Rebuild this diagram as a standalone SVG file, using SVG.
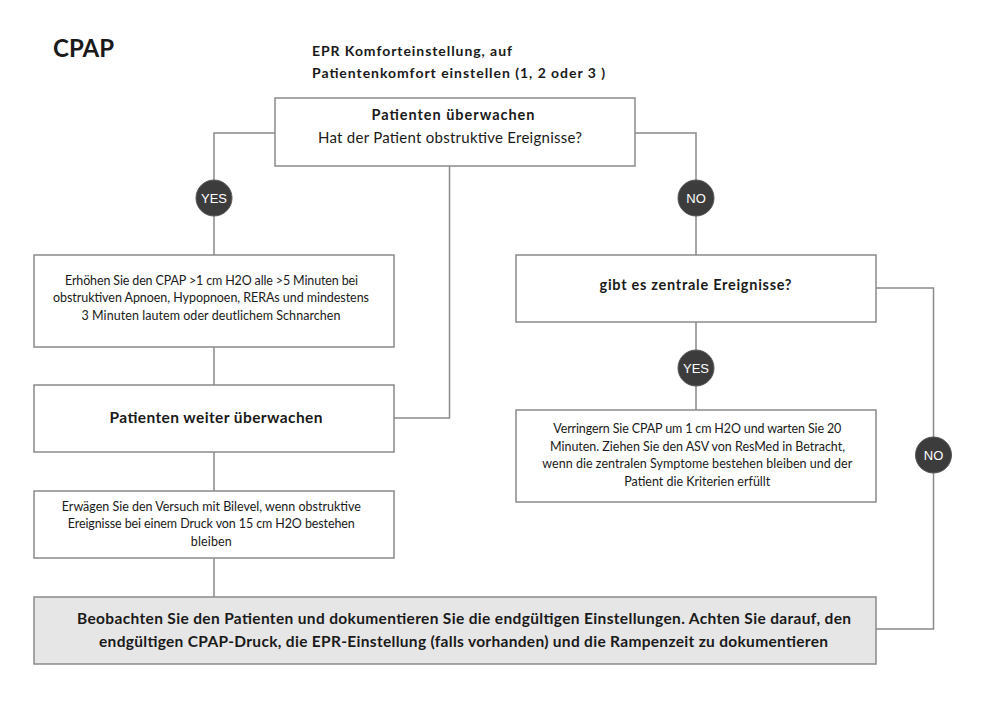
<svg xmlns="http://www.w3.org/2000/svg" width="1000" height="723" viewBox="0 0 1000 723">
<style>
.t{font-family:Lato,"Open Sans","Liberation Sans",sans-serif;fill:#1a1a1a}
.b{font-weight:bold}
.box{fill:#fff;stroke:#8a8a8a;stroke-width:1.5}
.gbox{fill:#e6e6e6;stroke:#8a8a8a;stroke-width:1.5}
.ln{fill:none;stroke:#8a8a8a;stroke-width:1.5}
.dot{fill:#3c3c3c;stroke:#5a5a5a;stroke-width:1}
.dl{font-family:"Liberation Sans",Arial,sans-serif;font-size:13px;fill:#fff;text-anchor:middle}
.m{text-anchor:middle}
.s{font-size:12.5px}
</style>
<rect width="1000" height="723" fill="#fff"/>
<g id="title">
<text class="t b" x="53" y="57" font-size="24">CPAP</text>
<text class="t b" x="312" y="56" font-size="14" textLength="200">EPR Komforteinstellung, auf</text>
<text class="t b" x="312" y="78" font-size="14" textLength="293">Patientenkomfort einstellen (1, 2 oder 3 )</text>
</g>
<g id="connectors">
<polyline class="ln" points="275,133 214,133 214,255"/>
<polyline class="ln" points="635,133 696,133 696,255"/>
<polyline class="ln" points="449.5,166 449.5,418 394,418"/>
<line class="ln" x1="214" y1="347" x2="214" y2="385"/>
<line class="ln" x1="214" y1="452" x2="214" y2="491"/>
<line class="ln" x1="214" y1="558" x2="214" y2="597"/>
<line class="ln" x1="696" y1="322" x2="696" y2="410"/>
<polyline class="ln" points="876,288 933.5,288 933.5,629 876,629"/>
</g>
<g id="n-monitor">
<rect class="box" x="275" y="98" width="360" height="68"/>
<text class="t b m" x="453" y="120" font-size="14.5" textLength="163">Patienten überwachen</text>
<text class="t m" x="450" y="143" font-size="15" textLength="264">Hat der Patient obstruktive Ereignisse?</text>
</g>
<g id="yes1">
<circle class="dot" cx="214" cy="198" r="18"/>
<text class="dl" x="214" y="203">YES</text>
</g>
<g id="no1">
<circle class="dot" cx="696" cy="198" r="18"/>
<text class="dl" x="696" y="203">NO</text>
</g>
<g id="n-increase">
<rect class="box" x="34" y="255" width="360" height="92"/>
<text class="t s m" x="211.5" y="284.5" textLength="293">Erhöhen Sie den CPAP &gt;1 cm H2O alle &gt;5 Minuten bei</text>
<text class="t s m" x="211" y="302" textLength="316">obstruktiven Apnoen, Hypopnoen, RERAs und mindestens</text>
<text class="t s m" x="211" y="319.5" textLength="259">3 Minuten lautem oder deutlichem Schnarchen</text>
</g>
<g id="n-continue">
<rect class="box" x="34" y="385" width="360" height="67"/>
<text class="t b m" x="216" y="423" font-size="15.5" textLength="213">Patienten weiter überwachen</text>
</g>
<g id="n-bilevel">
<rect class="box" x="34" y="491" width="360" height="67"/>
<text class="t s m" x="211.3" y="510.5" textLength="299">Erwägen Sie den Versuch mit Bilevel, wenn obstruktive</text>
<text class="t s m" x="211.3" y="528" textLength="287">Ereignisse bei einem Druck von 15 cm H2O bestehen</text>
<text class="t s m" x="211.3" y="545.5" textLength="41">bleiben</text>
</g>
<g id="n-central">
<rect class="box" x="516" y="255" width="360" height="67"/>
<text class="t b m" x="695.5" y="290" font-size="14.5" textLength="192">gibt es zentrale Ereignisse?</text>
</g>
<g id="yes2">
<circle class="dot" cx="696" cy="368" r="18"/>
<text class="dl" x="696" y="373">YES</text>
</g>
<g id="no2">
<circle class="dot" cx="933.5" cy="455" r="18"/>
<text class="dl" x="933.5" y="460">NO</text>
</g>
<g id="n-decrease">
<rect class="box" x="516" y="410" width="360" height="92"/>
<text class="t s m" x="697.3" y="433" textLength="288">Verringern Sie CPAP um 1 cm H2O und warten Sie 20</text>
<text class="t s m" x="697.5" y="450.7" textLength="295">Minuten. Ziehen Sie den ASV von ResMed in Betracht,</text>
<text class="t s m" x="697.3" y="468" textLength="310">wenn die zentralen Symptome bestehen bleiben und der</text>
<text class="t s m" x="697.2" y="485.5" textLength="146">Patient die Kriterien erfüllt</text>
</g>
<g id="n-final">
<rect class="gbox" x="34" y="597" width="842" height="67"/>
<text class="t b m" x="464" y="624" font-size="15.5" textLength="774">Beobachten Sie den Patienten und dokumentieren Sie die endgültigen Einstellungen. Achten Sie darauf, den</text>
<text class="t b m" x="463.5" y="646.5" font-size="15.5" textLength="729">endgültigen CPAP-Druck, die EPR-Einstellung (falls vorhanden) und die Rampenzeit zu dokumentieren</text>
</g>
</svg>
